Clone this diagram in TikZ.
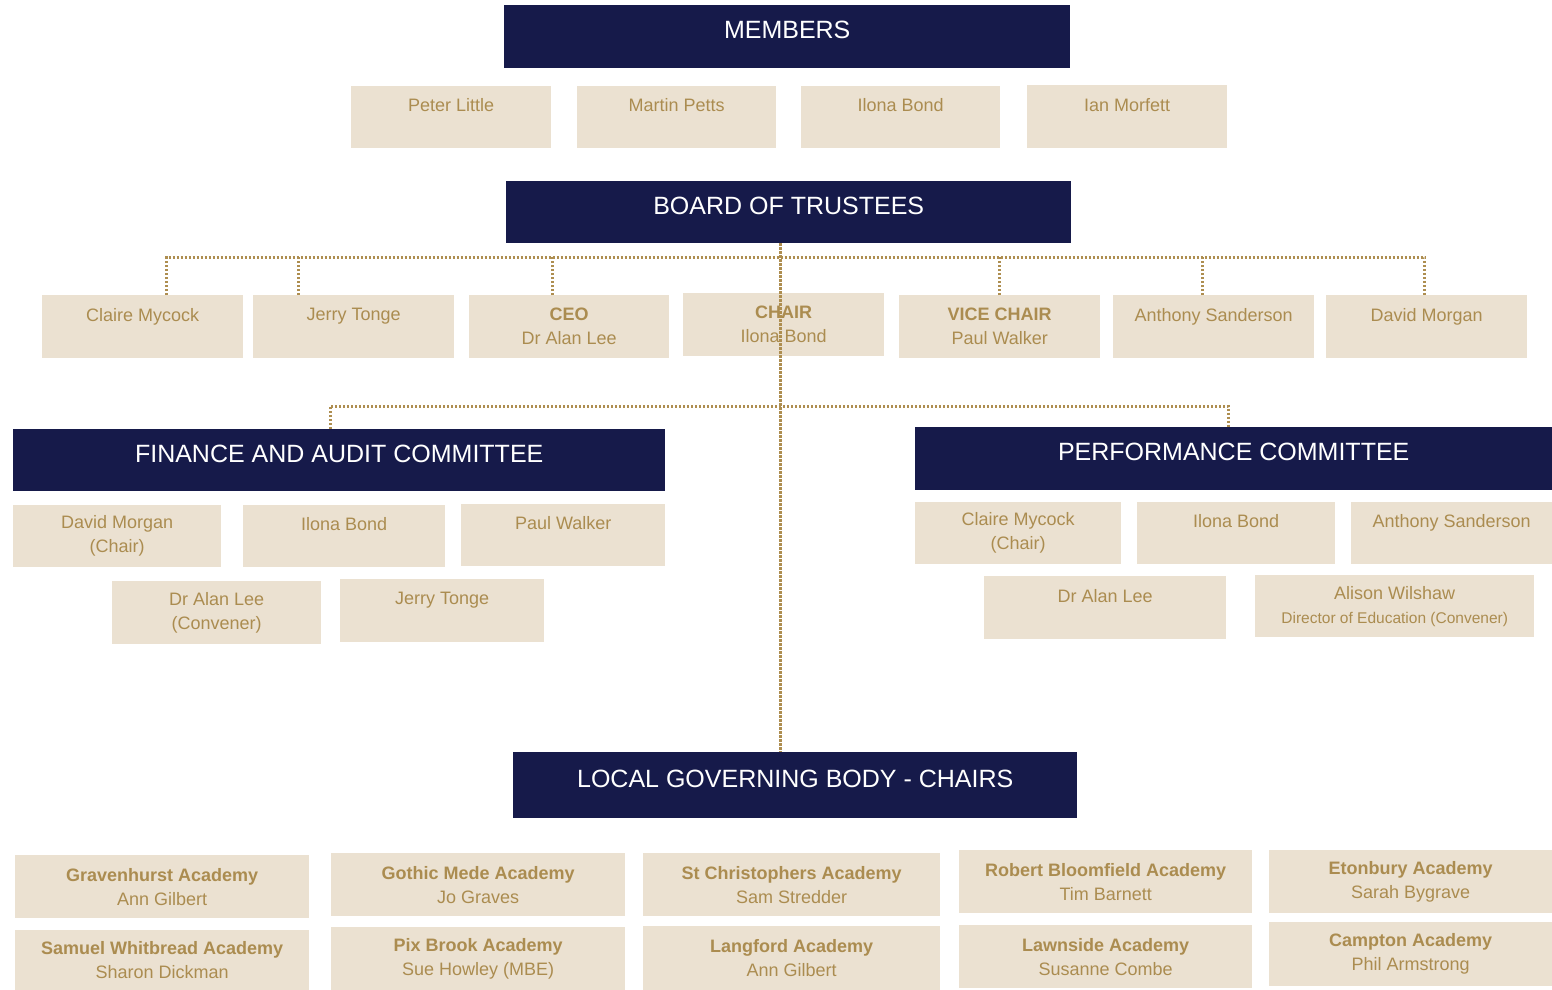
\documentclass[tikz,border=0pt]{standalone}
\usepackage{fontspec}
\setmainfont{Liberation Sans}
\definecolor{marine}{HTML}{161A4A}
\definecolor{beige}{HTML}{EBE1D1}
\definecolor{or}{HTML}{AB8C50}
\definecolor{ligne}{HTML}{AE8E50}

\tikzset{entete/.style = {fill = marine, text = white, anchor = north west, inner sep = 0pt,
                          font = \fontsize{25}{30}\selectfont, text height = 18pt, text depth = 14pt},
         boite/.style = {fill = beige, text = or, anchor = north west, inner sep = 0pt, align = center,
                         font = \fontsize{#1}{24}\selectfont},
         boite/.default = 18,
         taille/.style 2 args = {minimum width = #1, minimum height = #2},
         pointille/.style = {draw = ligne, line width = 3pt, dash pattern = on 2.2pt off 1.8pt}
        }

\begin{document}
\begin{tikzpicture}[x = 1pt, y = -1pt]
  \path[fill = white, use as bounding box] (0,0) rectangle (1552,990);

  \node[entete, taille = {566}{63}] (members) at (504,5) {MEMBERS};
  \node[boite, taille = {200}{62}] (mPeter) at (351,86) {Peter Little\\~};
  \node[boite, taille = {199}{62}] (mMartin) at (577,86) {Martin Petts\\~};
  \node[boite, taille = {199}{62}] (mIlona) at (801,86) {Ilona Bond\\~};
  \node[boite, taille = {200}{63}] (mIan) at (1027,85) {Ian Morfett\\~};

  \node[entete, taille = {565}{62}] (board) at (506,181) {BOARD OF TRUSTEES};
  \node[boite, taille = {201}{63}] (tClaire) at (42,295) {Claire Mycock\\~};
  \node[boite, taille = {201}{63}] (tJerry) at (253,295) {Jerry Tonge\\~};
  \node[boite, taille = {200}{63}] (tCeo) at (469,295) {\textbf{CEO}\\Dr Alan Lee};
  \node[boite, taille = {201}{63}] (tChair) at (683,293) {\textbf{CHAIR}\\Ilona Bond};
  \node[boite, taille = {201}{63}] (tVice) at (899,295) {\textbf{VICE CHAIR}\\Paul Walker};
  \node[boite, taille = {201}{63}] (tAnthony) at (1113,295) {Anthony Sanderson\\~};
  \node[boite, taille = {201}{63}] (tDavid) at (1326,295) {David Morgan\\~};

  \node[entete, taille = {652}{62}] (fac) at (13,429) {FINANCE AND AUDIT COMMITTEE};
  \node[boite, taille = {208}{62}] (fDavid) at (13,505) {David Morgan\\(Chair)};
  \node[boite, taille = {202}{62}] (fIlona) at (243,505) {Ilona Bond\\~};
  \node[boite, taille = {204}{62}] (fPaul) at (461,504) {Paul Walker\\~};
  \node[boite, taille = {209}{63}] (fAlan) at (112,581) {Dr Alan Lee\\(Convener)};
  \node[boite, taille = {204}{63}] (fJerry) at (340,579) {Jerry Tonge\\~};

  \node[entete, taille = {637}{63}] (pc) at (915,427) {PERFORMANCE COMMITTEE};
  \node[boite, taille = {206}{62}] (pClaire) at (915,502) {Claire Mycock\\(Chair)};
  \node[boite, taille = {198}{62}] (pIlona) at (1137,502) {Ilona Bond\\~};
  \node[boite, taille = {201}{62}] (pAnthony) at (1351,502) {Anthony Sanderson\\~};
  \node[boite, taille = {242}{63}] (pAlan) at (984,576) {Dr Alan Lee\\~};
  \node[boite, taille = {279}{62}] (pAlison) at (1255,575)
       {Alison Wilshaw\\{\fontsize{15.5}{20}\selectfont Director of Education (Convener)}};

  \node[entete, taille = {564}{66}] (lgb) at (513,752) {LOCAL GOVERNING BODY - CHAIRS};
  \node[boite, taille = {294}{63}] (aGravenhurst) at (15,855) {\textbf{Gravenhurst Academy}\\Ann Gilbert};
  \node[boite, taille = {294}{60}] (aSamuel) at (15,930) {\textbf{Samuel Whitbread Academy}\\Sharon Dickman};
  \node[boite, taille = {294}{63}] (aGothic) at (331,853) {\textbf{Gothic Mede Academy}\\Jo Graves};
  \node[boite, taille = {294}{63}] (aPix) at (331,927) {\textbf{Pix Brook Academy}\\Sue Howley (MBE)};
  \node[boite, taille = {297}{63}] (aStChris) at (643,853) {\textbf{St Christophers Academy}\\Sam Stredder};
  \node[boite, taille = {297}{64}] (aLangford) at (643,926) {\textbf{Langford Academy}\\Ann Gilbert};
  \node[boite, taille = {293}{63}] (aRobert) at (959,850) {\textbf{Robert Bloomfield Academy}\\Tim Barnett};
  \node[boite, taille = {293}{63}] (aLawnside) at (959,925) {\textbf{Lawnside Academy}\\Susanne Combe};
  \node[boite, taille = {283}{63}] (aEtonbury) at (1269,850) {\textbf{Etonbury Academy}\\Sarah Bygrave};
  \node[boite, taille = {283}{64}] (aCampton) at (1269,922) {\textbf{Campton Academy}\\Phil Armstrong};

  \coordinate (bus) at (780,257);
  \coordinate (bus2) at (780,406);
  \draw[pointille] ([xshift = 24]tClaire.north) |- (bus) -| ([xshift = -2]tDavid.north);
  \foreach \n/\d in {tJerry/-55, tCeo/-17, tVice/0, tAnthony/-11}
    \draw[pointille] ([xshift = \d]\n.north) -- ([xshift = \d]\n.north |- bus);
  \draw[pointille] (board.south -| bus) -- (lgb.north -| bus);
  \draw[pointille] ([xshift = -9]fac.north) |- (bus2) -| ([xshift = -5]pc.north);
\end{tikzpicture}
\end{document}
